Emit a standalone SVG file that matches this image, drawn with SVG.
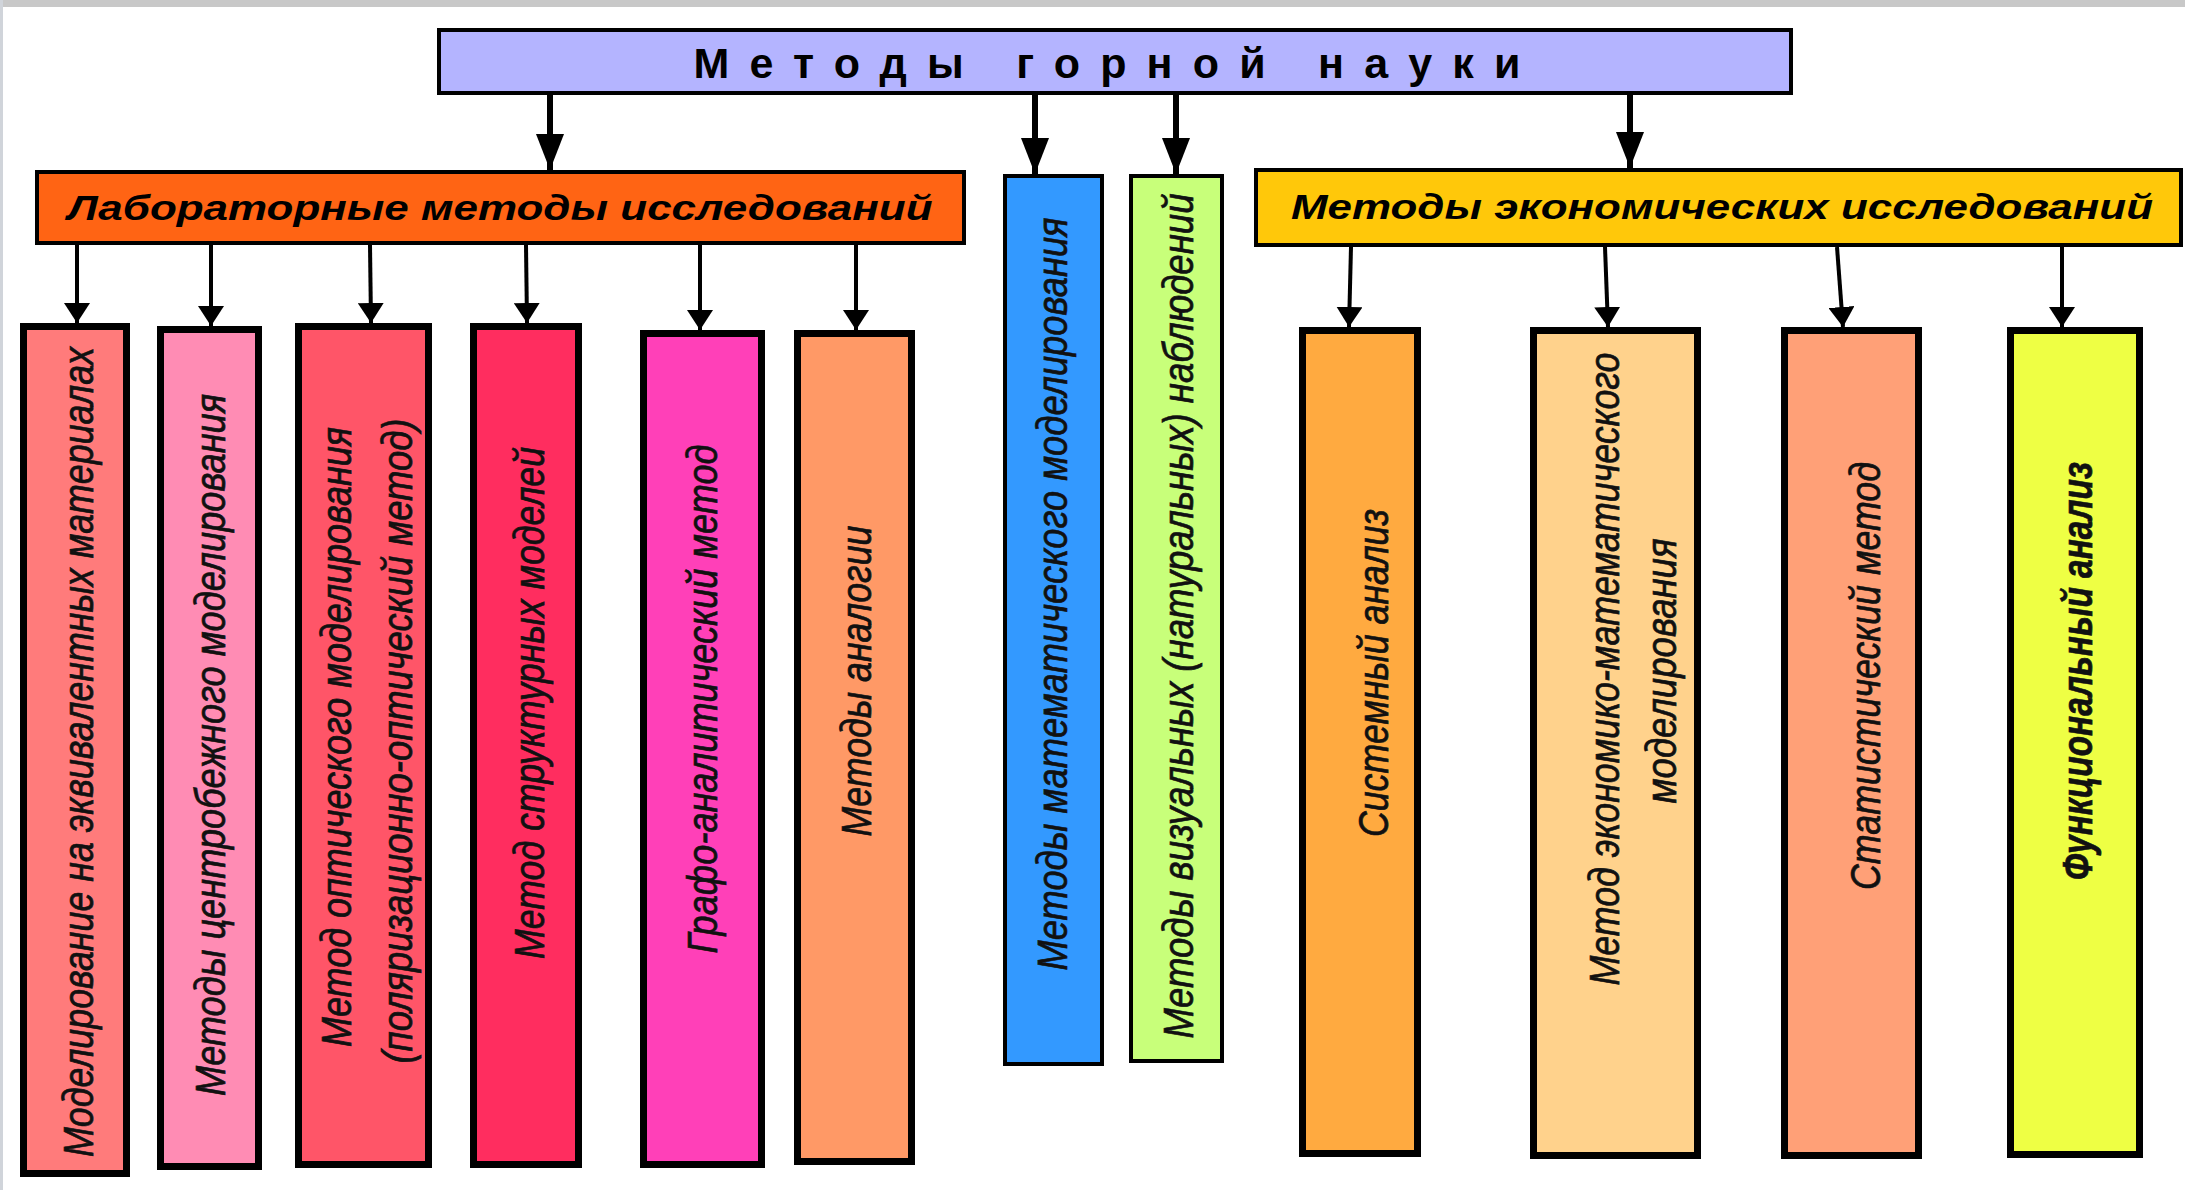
<svg xmlns="http://www.w3.org/2000/svg" width="2185" height="1190" viewBox="0 0 2185 1190">
<defs>
<style>
.bx{stroke:#000;stroke-width:7}
.hb{stroke:#000;stroke-width:4}
.t{font-family:"Liberation Sans Narrow","Arial Narrow","Liberation Sans",sans-serif;font-style:italic;font-size:43px;fill:#111;stroke:#111;stroke-width:0.7;text-anchor:middle}
.h{font-family:"Liberation Sans Narrow","Arial Narrow","Liberation Sans",sans-serif;font-style:italic;font-weight:bold;font-size:35px;fill:#000;text-anchor:middle}
.ttl{font-family:"Liberation Sans Narrow","Arial Narrow","Liberation Sans",sans-serif;font-weight:bold;font-size:43px;fill:#000;text-anchor:middle}
.ln{stroke:#000;fill:none}
</style>
<marker id="ah" markerWidth="36" markerHeight="28" refX="36" refY="14" orient="auto" markerUnits="userSpaceOnUse">
<path d="M0,0 L36,14 L0,28 Z" fill="#000"/>
</marker>
<marker id="as" markerWidth="20" markerHeight="26" refX="20" refY="13" orient="auto" markerUnits="userSpaceOnUse">
<path d="M0,0 L20,13 L0,26 Z" fill="#000"/>
</marker>
</defs>
<rect x="0" y="0" width="2185" height="1190" fill="#fff"/>
<rect x="0" y="0" width="2185" height="7" fill="#c8c8c8"/>
<rect x="0" y="0" width="3" height="1190" fill="#d0d4da"/>

<g id="connectors">
<line class="ln" x1="550" y1="95" x2="550" y2="170" stroke-width="6" marker-end="url(#ah)"/>
<line class="ln" x1="1035" y1="95" x2="1035" y2="174" stroke-width="6" marker-end="url(#ah)"/>
<line class="ln" x1="1176" y1="95" x2="1176" y2="174" stroke-width="6" marker-end="url(#ah)"/>
<line class="ln" x1="1630" y1="95" x2="1630" y2="168" stroke-width="6" marker-end="url(#ah)"/>
<line class="ln" x1="77" y1="245" x2="77" y2="323" stroke-width="4" marker-end="url(#as)"/>
<line class="ln" x1="211" y1="245" x2="211" y2="326" stroke-width="4" marker-end="url(#as)"/>
<line class="ln" x1="370" y1="245" x2="371" y2="323" stroke-width="4" marker-end="url(#as)"/>
<line class="ln" x1="526" y1="245" x2="527" y2="323" stroke-width="4" marker-end="url(#as)"/>
<line class="ln" x1="700" y1="245" x2="700" y2="330" stroke-width="4" marker-end="url(#as)"/>
<line class="ln" x1="856" y1="245" x2="856" y2="330" stroke-width="4" marker-end="url(#as)"/>
<line class="ln" x1="1351" y1="247" x2="1349" y2="327" stroke-width="4" marker-end="url(#as)"/>
<line class="ln" x1="1605" y1="247" x2="1608" y2="327" stroke-width="4" marker-end="url(#as)"/>
<line class="ln" x1="1837" y1="247" x2="1843" y2="327" stroke-width="4" marker-end="url(#as)"/>
<line class="ln" x1="2062" y1="247" x2="2062" y2="327" stroke-width="4" marker-end="url(#as)"/>
</g>

<g id="title">
<rect class="hb" x="439" y="30" width="1352" height="63" fill="#b4b4ff"/>
<text class="ttl" x="1107" y="78" textLength="827" lengthAdjust="spacing">Методы горной науки</text>
</g>

<g id="lab">
<rect class="hb" x="37" y="172" width="927" height="71" fill="#ff6414"/>
<text class="h" x="500" y="220" textLength="865" lengthAdjust="spacingAndGlyphs">Лабораторные методы исследований</text>
</g>

<g id="econ">
<rect class="hb" x="1256" y="170" width="925" height="75" fill="#ffc80a"/>
<text class="h" x="1722" y="219" textLength="862" lengthAdjust="spacingAndGlyphs">Методы экономических исследований</text>
</g>

<g id="math">
<rect class="hb" x="1005" y="176" width="97" height="888" fill="#3399ff"/>
<text class="t" transform="translate(1067,594) rotate(-90)" textLength="753" lengthAdjust="spacingAndGlyphs">Методы математического моделирования</text>
</g>

<g id="visual">
<rect class="hb" x="1131" y="176" width="91" height="885" fill="#c8ff7a"/>
<text class="t" transform="translate(1193,616) rotate(-90)" textLength="845" lengthAdjust="spacingAndGlyphs">Методы визуальных (натуральных) наблюдений</text>
</g>

<g id="lab1">
<rect class="bx" x="23.5" y="326.5" width="103" height="847" fill="#ff7b7b"/>
<text class="t" transform="translate(93,752) rotate(-90)" textLength="810" lengthAdjust="spacingAndGlyphs">Моделирование на эквивалентных материалах</text>
</g>

<g id="lab2">
<rect class="bx" x="160.5" y="329.5" width="98" height="837" fill="#ff8cb4"/>
<text class="t" transform="translate(225,745) rotate(-90)" textLength="702" lengthAdjust="spacingAndGlyphs">Методы центробежного моделирования</text>
</g>

<g id="lab3">
<rect class="bx" x="298.5" y="326.5" width="130" height="838" fill="#ff5568"/>
<text class="t" transform="translate(351,737) rotate(-90)" textLength="620" lengthAdjust="spacingAndGlyphs">Метод оптического моделирования</text>
<text class="t" transform="translate(412,741) rotate(-90)" textLength="645" lengthAdjust="spacingAndGlyphs">(поляризационно-оптический метод)</text>
</g>

<g id="lab4">
<rect class="bx" x="473.5" y="326.5" width="105" height="838" fill="#ff2d5f"/>
<text class="t" transform="translate(544,703) rotate(-90)" textLength="512" lengthAdjust="spacingAndGlyphs">Метод структурных моделей</text>
</g>

<g id="lab5">
<rect class="bx" x="643.5" y="333.5" width="118" height="831" fill="#ff40b8"/>
<text class="t" transform="translate(717,699) rotate(-90)" textLength="509" lengthAdjust="spacingAndGlyphs">Графо-аналитический метод</text>
</g>

<g id="lab6">
<rect class="bx" x="797.5" y="333.5" width="114" height="828" fill="#ff9966"/>
<text class="t" transform="translate(871,681) rotate(-90)" textLength="311" lengthAdjust="spacingAndGlyphs">Методы аналогии</text>
</g>

<g id="econ1">
<rect class="bx" x="1302.5" y="330.5" width="115" height="823" fill="#ffaa40"/>
<text class="t" transform="translate(1388,673) rotate(-90)" textLength="328" lengthAdjust="spacingAndGlyphs">Системный анализ</text>
</g>

<g id="econ2">
<rect class="bx" x="1533.5" y="330.5" width="164" height="825" fill="#ffd28c"/>
<text class="t" transform="translate(1619,669) rotate(-90)" textLength="633" lengthAdjust="spacingAndGlyphs">Метод экономико-математического</text>
<text class="t" transform="translate(1676,671) rotate(-90)" textLength="265" lengthAdjust="spacingAndGlyphs">моделирования</text>
</g>

<g id="econ3">
<rect class="bx" x="1784.5" y="330.5" width="134" height="825" fill="#ffa077"/>
<text class="t" transform="translate(1880,676) rotate(-90)" textLength="428" lengthAdjust="spacingAndGlyphs">Статистический метод</text>
</g>

<g id="econ4">
<rect class="bx" x="2010.5" y="330.5" width="129" height="824" fill="#eeff44"/>
<text class="t" transform="translate(2092,671) rotate(-90)" font-weight="bold" textLength="418" lengthAdjust="spacingAndGlyphs">Функциональный анализ</text>
</g>
</svg>
